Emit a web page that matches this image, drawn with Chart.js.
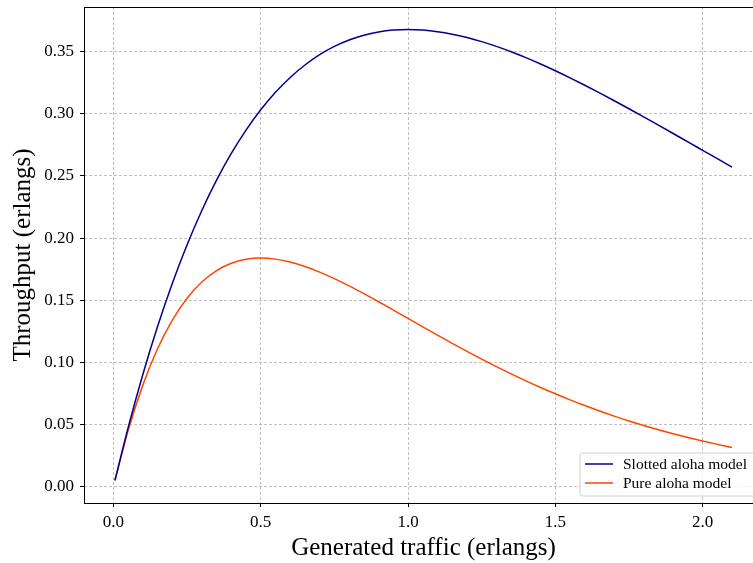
<!DOCTYPE html>
<html>
<head>
<meta charset="utf-8">
<script src="https://cdn.jsdelivr.net/npm/chart.js@4.4.1/dist/chart.umd.min.js"></script>
<style>
  html, body { margin: 0; padding: 0; background: #fff; overflow: hidden; }
  #wrap { width: 770px; height: 563px; }
</style>
</head>
<body>
<div id="wrap"><canvas id="aloha-chart" width="770" height="563"></canvas></div>
<script>
// generated traffic G (erlangs)
const traffic = [0.005, 0.05, 0.1, 0.15, 0.2, 0.25, 0.3, 0.35, 0.4, 0.45, 0.5, 0.55, 0.6, 0.65, 0.7,
  0.75, 0.8, 0.85, 0.9, 0.95, 1.0, 1.05, 1.1, 1.15, 1.2, 1.25, 1.3, 1.35, 1.4, 1.45, 1.5,
  1.55, 1.6, 1.65, 1.7, 1.75, 1.8, 1.85, 1.9, 1.95, 2.0, 2.05, 2.1];

const slottedThroughput = [0.00498, 0.04756, 0.09048, 0.12911, 0.16375, 0.19470, 0.22225, 0.24664,
  0.26813, 0.28693, 0.30327, 0.31732, 0.32929, 0.33933, 0.34761, 0.35428, 0.35946, 0.36330,
  0.36591, 0.36740, 0.36788, 0.36743, 0.36616, 0.36413, 0.36143, 0.35813, 0.35429, 0.34997,
  0.34524, 0.34013, 0.33470, 0.32898, 0.32304, 0.31688, 0.31056, 0.30410, 0.29754, 0.29089,
  0.28418, 0.27743, 0.27067, 0.26391, 0.25716];

const pureThroughput = [0.00495, 0.04524, 0.08187, 0.11112, 0.13406, 0.15163, 0.16464, 0.17380,
  0.17973, 0.18296, 0.18394, 0.18308, 0.18072, 0.17715, 0.17262, 0.16735, 0.16152, 0.15528,
  0.14877, 0.14209, 0.13534, 0.12858, 0.12188, 0.11530, 0.10886, 0.10261, 0.09656, 0.09073,
  0.08513, 0.07978, 0.07468, 0.06983, 0.06522, 0.06086, 0.05673, 0.05284, 0.04918, 0.04574,
  0.04250, 0.03947, 0.03663, 0.03397, 0.03149];

const seriesLabels = ['Slotted aloha model', 'Pure aloha model'];
const xTicks = [0, 0.5, 1.0, 1.5, 2.0];
const yTicks = [0, 0.05, 0.10, 0.15, 0.20, 0.25, 0.30, 0.35];

const serif = "'Liberation Serif', 'DejaVu Serif', serif";

function toPoints(ys) {
  return traffic.map((x, i) => ({ x: x, y: ys[i] }));
}

// draws the axes frame and the legend box inside the plot (lower right)
const frameAndLegend = {
  id: 'frameAndLegend',
  afterDraw(chart) {
    const { ctx, chartArea: a } = chart;
    ctx.save();
    ctx.strokeStyle = '#000';
    ctx.lineWidth = 1;
    ctx.strokeRect(a.left + 0.5, a.top + 0.5, a.right - a.left, a.bottom - a.top);

    const bx = 580, by = 453, bw = 185, bh = 43, r = 3;
    ctx.beginPath();
    ctx.moveTo(bx + r, by);
    ctx.lineTo(bx + bw - r, by);
    ctx.arcTo(bx + bw, by, bx + bw, by + r, r);
    ctx.lineTo(bx + bw, by + bh - r);
    ctx.arcTo(bx + bw, by + bh, bx + bw - r, by + bh, r);
    ctx.lineTo(bx + r, by + bh);
    ctx.arcTo(bx, by + bh, bx, by + bh - r, r);
    ctx.lineTo(bx, by + r);
    ctx.arcTo(bx, by, bx + r, by, r);
    ctx.closePath();
    ctx.fillStyle = 'rgba(255,255,255,0.8)';
    ctx.fill();
    ctx.strokeStyle = '#d0d0d0';
    ctx.stroke();

    ctx.font = '15.5px ' + serif;
    ctx.textBaseline = 'middle';
    chart.data.datasets.forEach((ds, i) => {
      const y = by + 11 + i * 19;
      ctx.strokeStyle = ds.borderColor;
      ctx.lineWidth = 1.5;
      ctx.beginPath();
      ctx.moveTo(bx + 5, y);
      ctx.lineTo(bx + 33, y);
      ctx.stroke();
      ctx.fillStyle = '#000';
      ctx.fillText(ds.label, bx + 43, y + 1);
    });
    ctx.restore();
  }
};

new Chart(document.getElementById('aloha-chart').getContext('2d'), {
  type: 'line',
  data: {
    datasets: [
      {
        label: seriesLabels[0],
        data: toPoints(slottedThroughput),
        borderColor: '#00008b',
        borderWidth: 1.5,
        pointRadius: 0,
        cubicInterpolationMode: 'monotone'
      },
      {
        label: seriesLabels[1],
        data: toPoints(pureThroughput),
        borderColor: '#ff4500',
        borderWidth: 1.5,
        pointRadius: 0,
        cubicInterpolationMode: 'monotone'
      }
    ]
  },
  options: {
    responsive: false,
    animation: false,
    layout: { padding: { top: 7, right: 7, left: 0, bottom: 0 } },
    plugins: {
      legend: { display: false },
      tooltip: { enabled: false }
    },
    scales: {
      x: {
        type: 'linear',
        min: -0.1,
        max: 2.205,
        afterBuildTicks: scale => { scale.ticks = xTicks.map(v => ({ value: v })); },
        afterFit: scale => {
          scale.height = 60;
          scale.paddingLeft = 0;
          scale.paddingRight = 0;
        },
        ticks: {
          color: '#000',
          font: { family: serif, size: 17 },
          padding: 5,
          maxRotation: 0,
          callback: v => v.toFixed(1)
        },
        grid: {
          color: '#b0b0b0',
          lineWidth: 0.8,
          tickColor: '#000',
          tickLength: 4,
          tickWidth: 1
        },
        border: { display: false, dash: [3, 2] },
        title: {
          display: true,
          text: 'Generated traffic (erlangs)',
          color: '#000',
          font: { family: serif, size: 25 },
          padding: { top: 0, bottom: 0 }
        }
      },
      y: {
        type: 'linear',
        min: -0.0132,
        max: 0.386,
        afterBuildTicks: scale => { scale.ticks = yTicks.map(v => ({ value: v })); },
        afterFit: scale => {
          scale.width = 84;
          scale.paddingTop = 0;
          scale.paddingBottom = 0;
        },
        ticks: {
          color: '#000',
          font: { family: serif, size: 17 },
          padding: 6,
          callback: v => v.toFixed(2)
        },
        grid: {
          color: '#b0b0b0',
          lineWidth: 0.8,
          tickColor: '#000',
          tickLength: 4,
          tickWidth: 1
        },
        border: { display: false, dash: [3, 2] },
        title: {
          display: true,
          text: 'Throughput (erlangs)',
          color: '#000',
          font: { family: serif, size: 25 },
          padding: { top: 8, bottom: 0 }
        }
      }
    }
  },
  plugins: [frameAndLegend]
});
</script>
</body>
</html>
